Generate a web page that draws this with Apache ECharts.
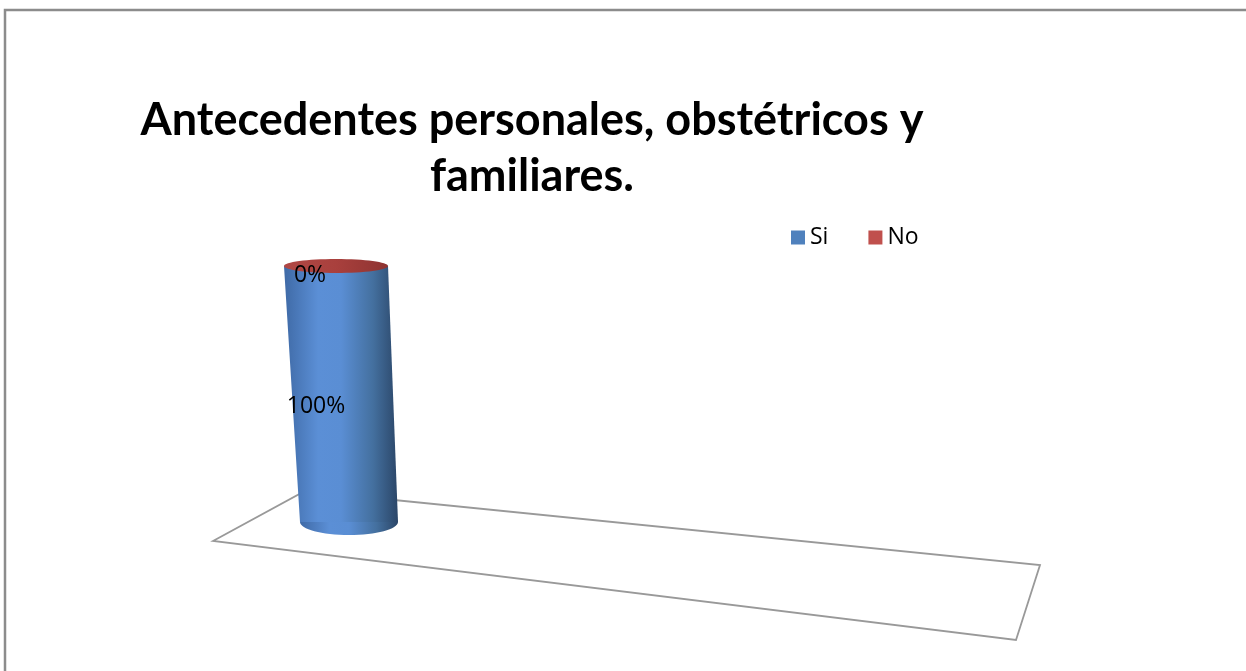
<!DOCTYPE html>
<html>
<head>
<meta charset="utf-8">
<script src="https://cdn.jsdelivr.net/npm/echarts@6/dist/echarts.min.js"></script>
<style>html,body{margin:0;padding:0;background:#fff}#c{width:1246px;height:671px}</style>
</head>
<body>
<div id="c"></div>
<script>
var categories = ['Antecedentes'];
var seriesNames = ['Si', 'No'];
var siValues = [100];
var noValues = [0];
var siLabels = ['100%'];
var noLabels = ['0%'];

var chart = echarts.init(document.getElementById('c'));

function renderCyl(params, api) {
  var idx = api.value(0);
  var base = api.coord([idx, 0]);
  var top = api.coord([idx, 100]);
  var w = api.size([1, 0])[0];
  var halfB = w * 0.49, halfT = w * 0.52;
  var tilt = -13;
  var bx = base[0] + 6, by = base[1];
  var tx = base[0] + 6 + tilt, ty = top[1];
  var children = [];
  if (params.seriesIndex === 0) {
    var grad = new echarts.graphic.LinearGradient(0, 0, 1, 0, [
      {offset: 0, color: '#3f6aa6'},
      {offset: 0.3, color: '#5b8fd6'},
      {offset: 0.5, color: '#5a8ed4'},
      {offset: 0.78, color: '#44709f'},
      {offset: 1, color: '#2b4668'}
    ]);
    children.push({type: 'ellipse', shape: {cx: bx, cy: by, rx: halfB, ry: 13}, style: {fill: grad}});
    children.push({type: 'polygon', shape: {points: [[bx - halfB, by], [bx + halfB, by], [tx + halfT, ty], [tx - halfT, ty]]}, style: {fill: grad}});
    children.push({type: 'text', style: {text: siLabels[params.dataIndex], x: tx - 20, y: (by + ty) / 2 + 12, align: 'center', verticalAlign: 'middle', fill: '#000', font: '23px "Open Sans", sans-serif'}});
  } else {
    var rg = new echarts.graphic.LinearGradient(0, 0, 1, 0, [
      {offset: 0, color: '#b04845'},
      {offset: 0.5, color: '#a9403d'},
      {offset: 1, color: '#8e3331'}
    ]);
    children.push({type: 'ellipse', shape: {cx: tx, cy: ty, rx: halfT, ry: 7}, style: {fill: rg}});
    children.push({type: 'text', style: {text: noLabels[params.dataIndex], x: tx - 26, y: ty + 9, align: 'center', verticalAlign: 'middle', fill: '#000', font: '23px "Open Sans", sans-serif'}});
  }
  return {type: 'group', children: children};
}

chart.setOption({
  animation: false,
  backgroundColor: '#fff',
  title: {
    text: 'Antecedentes personales, obstétricos y\nfamiliares.',
    left: 527, top: 87, textAlign: 'center',
    textStyle: {fontFamily: 'Lato', fontWeight: 'bold', fontSize: 45, lineHeight: 56, color: '#000'}
  },
  legend: {
    data: seriesNames,
    left: 786, top: 221,
    icon: 'rect', itemWidth: 14, itemHeight: 14, itemGap: 40,
    textStyle: {fontFamily: 'Open Sans', fontSize: 23, color: '#000', padding: [0,0,0,0]}
  },
  graphic: [
    {type: 'polyline', shape: {points: [[5, 680], [5, 10], [1260, 10]]}, style: {stroke: '#8c8c8c', lineWidth: 2.5, fill: null}, z: 0},
    {type: 'polygon', shape: {points: [[213, 541], [305, 491], [1040, 565], [1016, 640]]}, style: {stroke: '#999', lineWidth: 1.8, fill: '#fff'}, z: 0}
  ],
  grid: {left: 293, width: 100, top: 266, bottom: 149},
  xAxis: {type: 'category', data: categories, show: false},
  yAxis: {type: 'value', min: 0, max: 100, show: false},
  series: [
    {name: 'Si', type: 'custom', renderItem: renderCyl, itemStyle: {color: '#4f81bd'},
     data: siValues.map(function (v, i) { return [i, v]; }), z: 5},
    {name: 'No', type: 'custom', renderItem: renderCyl, itemStyle: {color: '#c0504d'},
     data: noValues.map(function (v, i) { return [i, v]; }), z: 6}
  ]
});
</script>
</body>
</html>
